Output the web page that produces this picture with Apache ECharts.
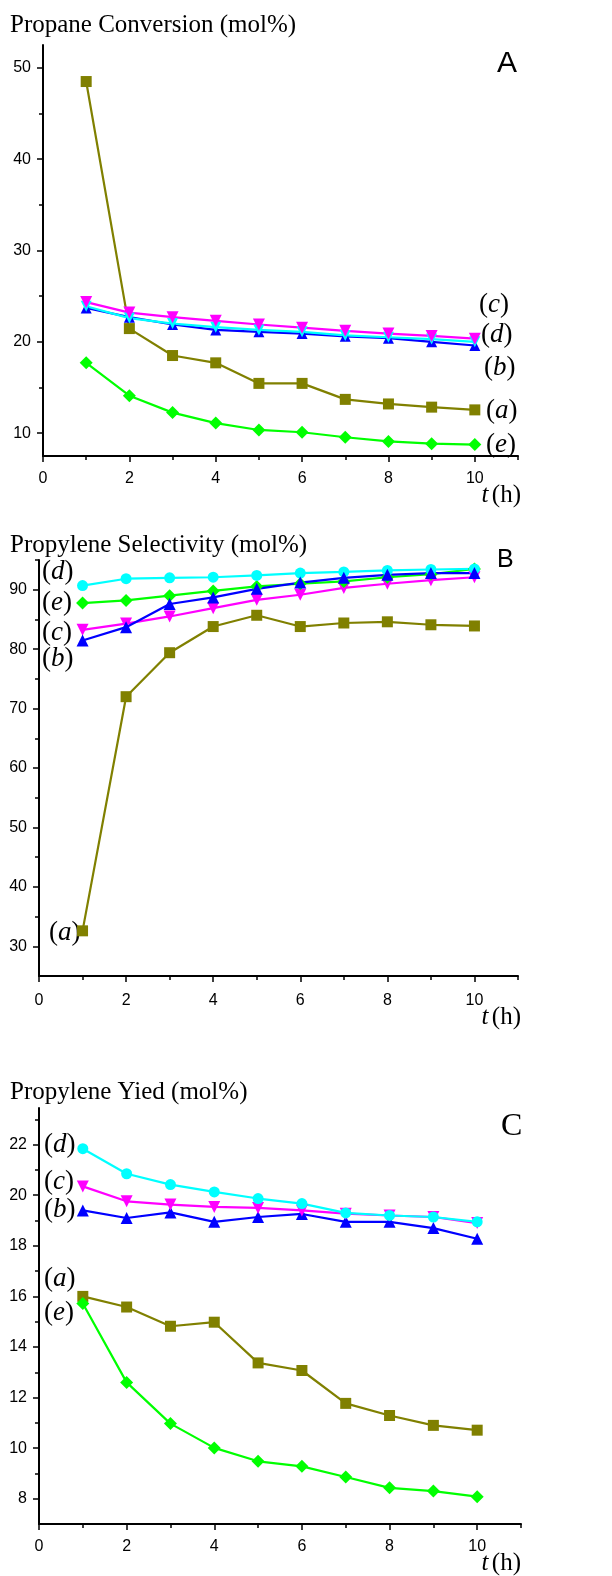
<!DOCTYPE HTML>
<html>
<head>
    <meta charset="UTF-8">
    <title>Propane dehydrogenation</title>
    <style>
        body{ margin:0; background-color:#ffffff; }
        #main{ width:612px; height:1576px; }
    </style>
    <script src="https://cdn.jsdelivr.net/npm/echarts@6/dist/echarts.min.js"></script>
</head>
<body>
<div id="main"></div>
<script type="text/javascript">
    // time on stream (h)
    var hours = [1, 2, 3, 4, 5, 6, 7, 8, 9, 10];

    // A - propane conversion (mol%)
    var conversion_a = [48.5, 21.45, 18.5, 17.7, 15.45, 15.45, 13.7, 13.2, 12.85, 12.55];
    var conversion_b = [23.7, 22.7, 21.9, 21.3, 21.1, 20.9, 20.6, 20.4, 20.0, 19.6];
    var conversion_c = [24.35, 23.2, 22.7, 22.3, 21.9, 21.55, 21.2, 20.9, 20.65, 20.35];
    var conversion_d = [23.9, 22.6, 22.0, 21.6, 21.3, 21.1, 20.7, 20.5, 20.3, 20.0];
    var conversion_e = [17.7, 14.1, 12.25, 11.1, 10.35, 10.1, 9.55, 9.1, 8.85, 8.75];

    // B - propylene selectivity (mol%)
    var selectivity_a = [32.6, 72.0, 79.4, 83.8, 85.7, 83.8, 84.4, 84.6, 84.1, 83.9];
    var selectivity_b = [81.45, 83.7, 87.6, 88.7, 90.15, 91.2, 92.0, 92.5, 92.8, 92.8];
    var selectivity_c = [83.25, 84.3, 85.5, 86.9, 88.3, 89.15, 90.3, 91.0, 91.6, 92.1];
    var selectivity_d = [90.7, 91.85, 92.0, 92.1, 92.4, 92.8, 93.0, 93.25, 93.4, 93.5];
    var selectivity_e = [87.75, 88.2, 89.0, 89.8, 90.55, 91.0, 91.4, 92.1, 92.6, 93.5];

    // C - propylene yield (mol%)
    var yield_a = [16.0, 15.58, 14.82, 14.98, 13.37, 13.07, 11.77, 11.29, 10.9, 10.71];
    var yield_b = [19.4, 19.1, 19.32, 18.95, 19.14, 19.26, 18.95, 18.95, 18.7, 18.28];
    var yield_c = [20.35, 19.76, 19.63, 19.54, 19.5, 19.4, 19.27, 19.2, 19.14, 18.9];
    var yield_d = [21.84, 20.85, 20.42, 20.13, 19.87, 19.67, 19.3, 19.2, 19.14, 18.95];
    var yield_e = [15.72, 12.6, 10.97, 10.01, 9.48, 9.28, 8.86, 8.43, 8.3, 8.08];

    // tick values
    var xTicks = [0, 2, 4, 6, 8, 10];
    var xMinor = [1, 3, 5, 7, 9, 11];
    var convTicks = [10, 20, 30, 40, 50];
    var convMinor = [15, 25, 35, 45];
    var selTicks = [30, 40, 50, 60, 70, 80, 90];
    var selMinor = [35, 45, 55, 65, 75, 85, 95];
    var yieldTicks = [8, 10, 12, 14, 16, 18, 20, 22];
    var yieldMinor = [9, 11, 13, 15, 17, 19, 21, 23];

    var OLIVE = '#808000', GREEN = '#00ff00', MAGENTA = '#ff00ff', CYAN = '#00ffff', BLUE = '#0000ff';
    var SANS = '"Liberation Sans", Arial, sans-serif';
    var SERIF = '"Liberation Serif", "Times New Roman", serif';

    var myChart = echarts.init(document.getElementById('main'), null, {renderer: 'canvas'});

    var grids = [
        {left: 43, top: 45, width: 475, height: 411},
        {left: 39, top: 560, width: 479, height: 416},
        {left: 39, top: 1108, width: 482, height: 416}
    ];
    var yRanges = [
        {min: 7.5, max: 52.5, ticks: convTicks, minor: convMinor, xMargin: 15},
        {min: 25, max: 95, ticks: selTicks, minor: selMinor, xMargin: 17},
        {min: 7, max: 23.45, ticks: yieldTicks, minor: yieldMinor, xMargin: 15}
    ];

    var xAxes = [], yAxes = [];
    yRanges.forEach(function (r, g) {
        xAxes.push({
            type: 'value', gridIndex: g, min: 0, max: 11, position: 'bottom',
            axisLine: {lineStyle: {color: '#000', width: 2}},
            axisTick: {show: true, customValues: xTicks, length: 6, lineStyle: {color: '#000', width: 1.5}},
            axisLabel: {customValues: xTicks, color: '#000', fontSize: 16, fontFamily: SANS, margin: r.xMargin},
            splitLine: {show: false}
        });
        xAxes.push({
            type: 'value', gridIndex: g, min: 0, max: 11, position: 'bottom',
            axisLine: {show: false},
            axisTick: {show: true, customValues: xMinor, length: 4, lineStyle: {color: '#000', width: 1.5}},
            axisLabel: {show: false},
            splitLine: {show: false}
        });
        yAxes.push({
            type: 'value', gridIndex: g, min: r.min, max: r.max, position: 'left',
            axisLine: {show: true, lineStyle: {color: '#000', width: 2}},
            axisTick: {show: true, customValues: r.ticks, length: 6, lineStyle: {color: '#000', width: 1.5}},
            axisLabel: {customValues: r.ticks, color: '#000', fontSize: 16, fontFamily: SANS, margin: 12},
            splitLine: {show: false}
        });
        yAxes.push({
            type: 'value', gridIndex: g, min: r.min, max: r.max, position: 'left',
            axisLine: {show: false},
            axisTick: {show: true, customValues: r.minor, length: 4, lineStyle: {color: '#000', width: 1.5}},
            axisLabel: {show: false},
            splitLine: {show: false}
        });
    });

    function line(g, values, color, symbol, size, rotate) {
        return {
            type: 'line',
            xAxisIndex: 2 * g,
            yAxisIndex: 2 * g,
            data: hours.map(function (h, i) { return [h, values[i]]; }),
            symbol: symbol,
            symbolSize: size,
            symbolRotate: rotate || 0,
            showAllSymbol: true,
            lineStyle: {color: color, width: 2.2},
            itemStyle: {color: color},
            animation: false
        };
    }

    var series = [
        // A
        line(0, conversion_a, OLIVE, 'rect', 11),
        line(0, conversion_e, GREEN, 'diamond', 13),
        line(0, conversion_b, BLUE, 'triangle', 11),
        line(0, conversion_d, CYAN, 'triangle', 11, 180),
        line(0, conversion_c, MAGENTA, 'triangle', 12, 180),
        // B
        line(1, selectivity_a, OLIVE, 'rect', 11),
        line(1, selectivity_c, MAGENTA, 'triangle', 12, 180),
        line(1, selectivity_e, GREEN, 'diamond', 13),
        line(1, selectivity_d, CYAN, 'circle', 11),
        line(1, selectivity_b, BLUE, 'triangle', 12),
        // C
        line(2, yield_a, OLIVE, 'rect', 11),
        line(2, yield_e, GREEN, 'diamond', 13),
        line(2, yield_b, BLUE, 'triangle', 12),
        line(2, yield_c, MAGENTA, 'triangle', 12, 180),
        line(2, yield_d, CYAN, 'circle', 11)
    ];

    var rich = {
        p: {fontFamily: SERIF, fontSize: 27, color: '#000'},
        i: {fontFamily: SERIF, fontSize: 27, fontStyle: 'italic', color: '#000'},
        t: {fontFamily: SERIF, fontSize: 25, fontStyle: 'italic', color: '#000'},
        h: {fontFamily: SERIF, fontSize: 25, color: '#000'}
    };

    function tag(letter, x, y) {
        return {type: 'text', x: x, y: y, style: {text: '{p|(}{i|' + letter + '}{p|)}', rich: rich, verticalAlign: 'middle'}};
    }
    function plain(text, x, y, font, align) {
        return {type: 'text', x: x, y: y, style: {text: text, font: font, fill: '#000', verticalAlign: 'middle', align: align || 'left'}};
    }
    function hours_label(y) {
        return {type: 'text', x: 521, y: y, style: {text: '{t|t} {h|(h)}', rich: rich, align: 'right', verticalAlign: 'middle'}};
    }

    var graphics = [
        plain('Propane Conversion (mol%)', 10, 25, '25px ' + SERIF),
        plain('A', 497, 64, '30px ' + SANS),
        tag('c', 479, 305), tag('d', 481, 335), tag('b', 484, 368), tag('a', 486, 411), tag('e', 486, 445),
        hours_label(495),

        plain('Propylene Selectivity (mol%)', 10, 545, '25px ' + SERIF),
        plain('B', 497, 560, '25px ' + SANS),
        tag('d', 42, 572), tag('e', 42, 603), tag('c', 42, 633), tag('b', 42, 659), tag('a', 49, 933),
        hours_label(1017),

        plain('Propylene Yied (mol%)', 10, 1092, '25px ' + SERIF),
        plain('C', 501, 1127, '32px ' + SERIF),
        tag('d', 44, 1145), tag('c', 44, 1182), tag('b', 44, 1210), tag('a', 44, 1279), tag('e', 44, 1313),
        hours_label(1563)
    ];

    var option = {
        backgroundColor: '#ffffff',
        animation: false,
        grid: grids,
        xAxis: xAxes,
        yAxis: yAxes,
        series: series,
        graphic: graphics
    };
    myChart.setOption(option);
</script>
</body>
</html>
